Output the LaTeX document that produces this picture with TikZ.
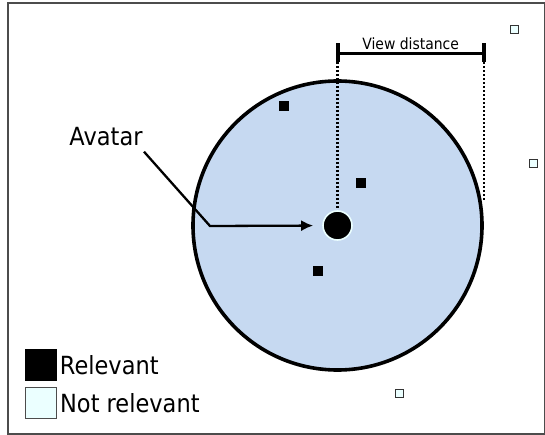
\documentclass[tikz,border=0pt]{standalone}
\usepackage{fontspec}
\setmainfont{DejaVu Sans}[FakeStretch=0.9]
\usepackage{tikz}
\usetikzlibrary{positioning, arrows.meta}
\definecolor{viewblue}{RGB}{198,217,241}
\definecolor{farcyan}{RGB}{235,255,255}
\tikzset{
x=1pt, y=-1pt, % one unit is one pixel, y grows downwards
>={Latex[length=12pt, width=11pt]}, % filled arrow heads
bigtext/.style={font=\fontsize{25}{30}\selectfont}, % labels and legend
smalltext/.style={font=\fontsize{15.5}{18}\selectfont}, % the distance label
relevant/.style={draw=black, fill=black, minimum size=9pt, inner sep=0pt}, % objects inside the view
faraway/.style={draw=black!80, fill=farcyan, minimum size=8pt, inner sep=0pt, line width=0.9pt}, % objects outside the view
dots/.style={line width=2.6pt, dash pattern=on 2pt off 2pt}, % guide lines of the view distance
}

\begin{document}
\begin{tikzpicture}
  \useasboundingbox (0,0) rectangle (545,435);
  \draw[black!70, line width=1.4pt] (8,3) rectangle (544.5,434);

  % View area and avatar
  \node[circle, draw, line width=3.6pt, fill=viewblue, minimum size=289pt, inner sep=0pt] (view) at (337.5,225.5) {};
  \node[circle, fill=black, draw=farcyan, line width=1.6pt, minimum size=29pt, inner sep=0pt] (av) at (view.center) {};

  % Objects
  \node[relevant] (r1) at (284,105.7) {};
  \node[relevant] (r2) at (361,182.3) {};
  \node[relevant] (r3) at (318,270.7) {};
  \node[faraway] (f1) at (514,29) {};
  \node[faraway] (f2) at (533,163.3) {};
  \node[faraway] (f3) at (399,393.3) {};

  % View distance
  \coordinate (vl) at (337.5,53.3);
  \coordinate (vr) at (view.east |- vl);
  \coordinate (ve) at (view.east |- 0,202);
  \draw[line width=3.4pt] (vl) -- node[above=1pt, smalltext, inner sep=1pt] (vd) {View distance} (vr);
  \draw[line width=4pt] ([yshift=10pt]vl) -- ([yshift=-9pt]vl);
  \draw[line width=4pt] ([yshift=10pt]vr) -- ([yshift=-9pt]vr);
  \draw[dots] ([yshift=-9pt]vl) -- (av.north);
  \draw[dots] ([yshift=-9pt]vr) -- (ve);

  % Avatar label
  \node[bigtext] (lbl) at (106,136.7) {Avatar};
  \coordinate (tail) at (144,151.7);
  \coordinate (bend) at (210,226);
  \draw[->, line width=2.3pt, shorten >=9pt] (tail) -- (bend) -- (av);

  % Legend
  \node[draw=black, fill=black, minimum size=31pt, inner sep=0pt] (kr) at (41,365) {};
  \node[draw=black!70, fill=farcyan, line width=0.9pt, minimum size=31pt, inner sep=0pt] (kn) at (41,403) {};
  \node[bigtext, right=2pt of kr, inner sep=1pt] (krt) {Relevant};
  \node[bigtext, right=2pt of kn, inner sep=1pt] (knt) {Not relevant};
\end{tikzpicture}
\end{document}
